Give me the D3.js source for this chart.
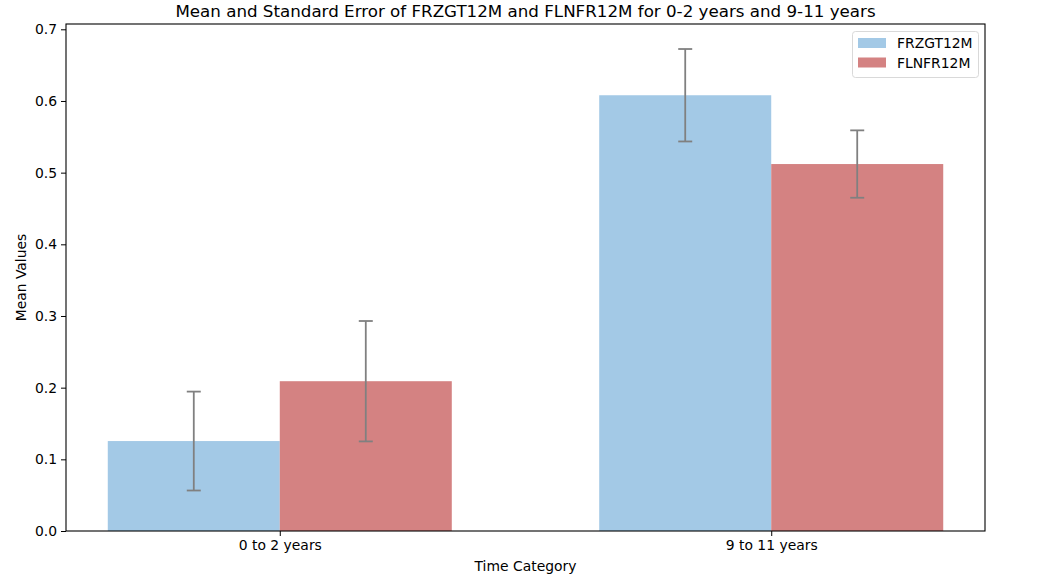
<!DOCTYPE html>
<html><head><meta charset="utf-8">
<script src="https://cdn.jsdelivr.net/npm/d3@7"></script>
<style>body{margin:0;background:#fff}svg{display:block}text{font-family:"DejaVu Sans",sans-serif;fill:#000}</style>
</head><body>
<script>
const categories = ["0 to 2 years", "9 to 11 years"];
const seriesNames = ["FRZGT12M", "FLNFR12M"];
const frzgtMean = [0.1255, 0.608];
const frzgtErr = [0.069, 0.0645];
const flnfrMean = [0.209, 0.512];
const flnfrErr = [0.084, 0.047];
const yTicks = [0.0, 0.1, 0.2, 0.3, 0.4, 0.5, 0.6, 0.7];
const colors = ["#a3c9e6", "#d48282"];

const W = 1047, H = 583;
const L = 66, R = 985, T = 24, B = 531;
const barW = 0.35;
const svg = d3.select("body").append("svg").attr("width", W).attr("height", H);

const x = d3.scaleLinear().domain([-0.435, 1.435]).range([L, R]);
const y = d3.scaleLinear().domain([0, 0.7074]).range([B, T]);

const series = [
  {name: seriesNames[0], mean: frzgtMean, err: frzgtErr, off: -barW/2, color: colors[0]},
  {name: seriesNames[1], mean: flnfrMean, err: flnfrErr, off: barW/2, color: colors[1]}
];

series.forEach(s => {
  categories.forEach((c, i) => {
    const cx = i + s.off;
    svg.append("rect")
      .attr("x", x(cx - barW/2)).attr("width", x(cx + barW/2) - x(cx - barW/2))
      .attr("y", y(s.mean[i])).attr("height", y(0) - y(s.mean[i]))
      .attr("fill", s.color);
  });
});
series.forEach(s => {
  categories.forEach((c, i) => {
    const px = x(i + s.off);
    const lo = y(s.mean[i] - s.err[i]), hi = y(s.mean[i] + s.err[i]);
    const g = svg.append("g").attr("stroke", "#808080").attr("stroke-width", 1.8);
    g.append("line").attr("x1", px).attr("x2", px).attr("y1", lo).attr("y2", hi);
    g.append("line").attr("x1", px - 7).attr("x2", px + 7).attr("y1", lo).attr("y2", lo);
    g.append("line").attr("x1", px - 7).attr("x2", px + 7).attr("y1", hi).attr("y2", hi);
  });
});

// axes
const yAxis = d3.axisLeft(y).tickValues(yTicks).tickFormat(d3.format(".1f")).tickSize(5).tickPadding(4);
const gy = svg.append("g").attr("transform", `translate(${L},0)`).call(yAxis);
const xAxis = d3.axisBottom(x).tickValues([0, 1]).tickFormat(i => categories[i]).tickSize(5).tickPadding(4);
const gx = svg.append("g").attr("transform", `translate(0,${B})`).call(xAxis);
[gx, gy].forEach(g => {
  g.select(".domain").remove();
  g.selectAll("text").style("font-size", "13.9px").attr("fill", "#000");
  g.selectAll("line").attr("stroke", "#000").attr("stroke-width", 1);
});
svg.append("rect").attr("x", L).attr("y", T).attr("width", R - L).attr("height", B - T)
  .attr("fill", "none").attr("stroke", "#000").attr("stroke-width", 1.1);

svg.append("text").attr("x", (L + R) / 2).attr("y", 17).attr("text-anchor", "middle")
  .style("font-size", "16.7px").text("Mean and Standard Error of FRZGT12M and FLNFR12M for 0-2 years and 9-11 years");
svg.append("text").attr("x", (L + R) / 2).attr("y", 571).attr("text-anchor", "middle")
  .style("font-size", "13.9px").text("Time Category");
svg.append("text").attr("transform", `translate(26,${(T + B) / 2}) rotate(-90)`).attr("text-anchor", "middle")
  .style("font-size", "13.9px").text("Mean Values");

// legend
const lg = svg.append("g");
lg.append("rect").attr("x", 852.5).attr("y", 31.5).attr("width", 126).attr("height", 46).attr("rx", 3)
  .attr("fill", "#fff").attr("fill-opacity", 0.8).attr("stroke", "#d9d9d9");
series.forEach((s, i) => {
  lg.append("rect").attr("x", 858).attr("y", 38 + i * 19.5).attr("width", 28).attr("height", 10).attr("fill", s.color);
  lg.append("text").attr("x", 897).attr("y", 48 + i * 19.5).style("font-size", "13.9px").text(s.name);
});
</script>
</body></html>
